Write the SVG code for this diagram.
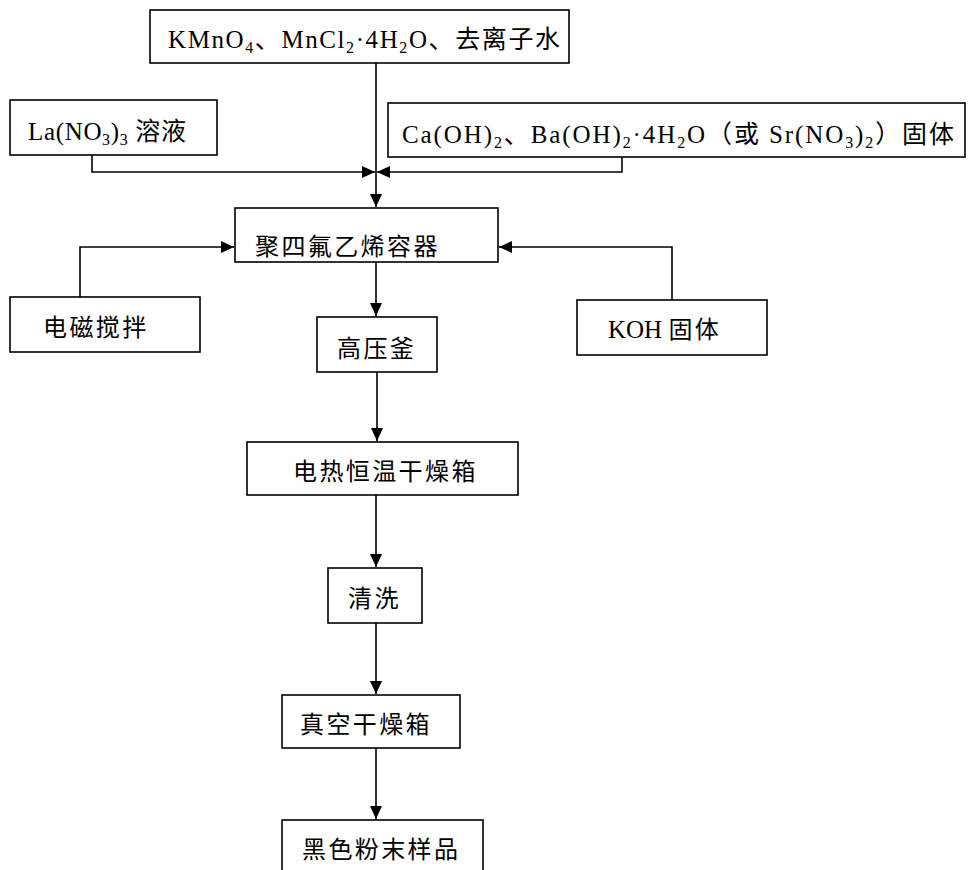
<svg xmlns="http://www.w3.org/2000/svg" width="968" height="870" viewBox="0 0 968 870">
<style>
.box{fill:#fff;stroke:#000;stroke-width:1.6}
.ln{fill:none;stroke:#000;stroke-width:1.6}
.t{font-family:"Liberation Serif","Noto Sans CJK SC",serif;font-size:25px;fill:#000}
.c{font-family:"Noto Sans CJK SC","Liberation Serif",sans-serif;font-size:24px;fill:#000;letter-spacing:2.4px}
.s{font-size:16px}
</style>
<defs>
<marker id="ah" markerUnits="userSpaceOnUse" markerWidth="14" markerHeight="12" refX="13" refY="6" orient="auto">
<path d="M0,0 L13,6 L0,12 z" fill="#000"/>
</marker>
</defs>
<rect width="968" height="870" fill="#fff"/>
<g id="connectors">
<path class="ln" d="M376,63 V172" />
<path class="ln" d="M376,172 V207" marker-end="url(#ah)"/>
<path class="ln" d="M92,155 V172 H375" marker-end="url(#ah)"/>
<path class="ln" d="M622,157 V172 H377" marker-end="url(#ah)"/>
<path class="ln" d="M80,297 V247 H234" marker-end="url(#ah)"/>
<path class="ln" d="M672,300 V247 H499" marker-end="url(#ah)"/>
<path class="ln" d="M376,262 V316" marker-end="url(#ah)"/>
<path class="ln" d="M377,372 V441" marker-end="url(#ah)"/>
<path class="ln" d="M376,495 V567" marker-end="url(#ah)"/>
<path class="ln" d="M376,623 V694" marker-end="url(#ah)"/>
<path class="ln" d="M376,748 V819" marker-end="url(#ah)"/>
</g>
<g id="n-top">
<rect class="box" x="150" y="10" width="419" height="53"/>
<text class="t" x="168" y="48" textLength="392" lengthAdjust="spacing">KMnO<tspan class="s" dy="5">4</tspan><tspan dy="-5">、MnCl</tspan><tspan class="s" dy="5">2</tspan><tspan dy="-5">·4H</tspan><tspan class="s" dy="5">2</tspan><tspan dy="-5">O、去离子水</tspan></text>
</g>
<g id="n-la">
<rect class="box" x="10" y="100" width="207" height="55"/>
<text class="t" x="28" y="140" textLength="158" lengthAdjust="spacing">La(NO<tspan class="s" dy="5">3</tspan><tspan dy="-5">)</tspan><tspan class="s" dy="5">3</tspan><tspan dy="-5"> 溶液</tspan></text>
</g>
<g id="n-ca">
<rect class="box" x="388" y="103" width="577" height="54"/>
<text class="t" x="402" y="143" textLength="552" lengthAdjust="spacing">Ca(OH)<tspan class="s" dy="5">2</tspan><tspan dy="-5">、Ba(OH)</tspan><tspan class="s" dy="5">2</tspan><tspan dy="-5">·4H</tspan><tspan class="s" dy="5">2</tspan><tspan dy="-5">O（或 Sr(NO</tspan><tspan class="s" dy="5">3</tspan><tspan dy="-5">)</tspan><tspan class="s" dy="5">2</tspan><tspan dy="-5">）固体</tspan></text>
</g>
<g id="n-ptfe">
<rect class="box" x="235" y="208" width="263" height="54"/>
<text class="c" x="255" y="255">聚四氟乙烯容器</text>
</g>
<g id="n-stir">
<rect class="box" x="10" y="297" width="190" height="55"/>
<text class="c" x="43" y="336">电磁搅拌</text>
</g>
<g id="n-koh">
<rect class="box" x="577" y="300" width="190" height="55"/>
<text class="t" x="608" y="338">KOH <tspan class="c">固体</tspan></text>
</g>
<g id="n-autoclave">
<rect class="box" x="317" y="317" width="120" height="55"/>
<text class="c" x="337" y="357">高压釜</text>
</g>
<g id="n-oven">
<rect class="box" x="247" y="442" width="271" height="53"/>
<text class="c" x="293" y="480">电热恒温干燥箱</text>
</g>
<g id="n-wash">
<rect class="box" x="328" y="568" width="94" height="55"/>
<text class="c" x="348" y="607">清洗</text>
</g>
<g id="n-vacuum">
<rect class="box" x="282" y="695" width="178" height="53"/>
<text class="c" x="300" y="733">真空干燥箱</text>
</g>
<g id="n-sample">
<rect class="box" x="282" y="820" width="201" height="60"/>
<text class="c" x="302" y="858">黑色粉末样品</text>
</g>
</svg>
